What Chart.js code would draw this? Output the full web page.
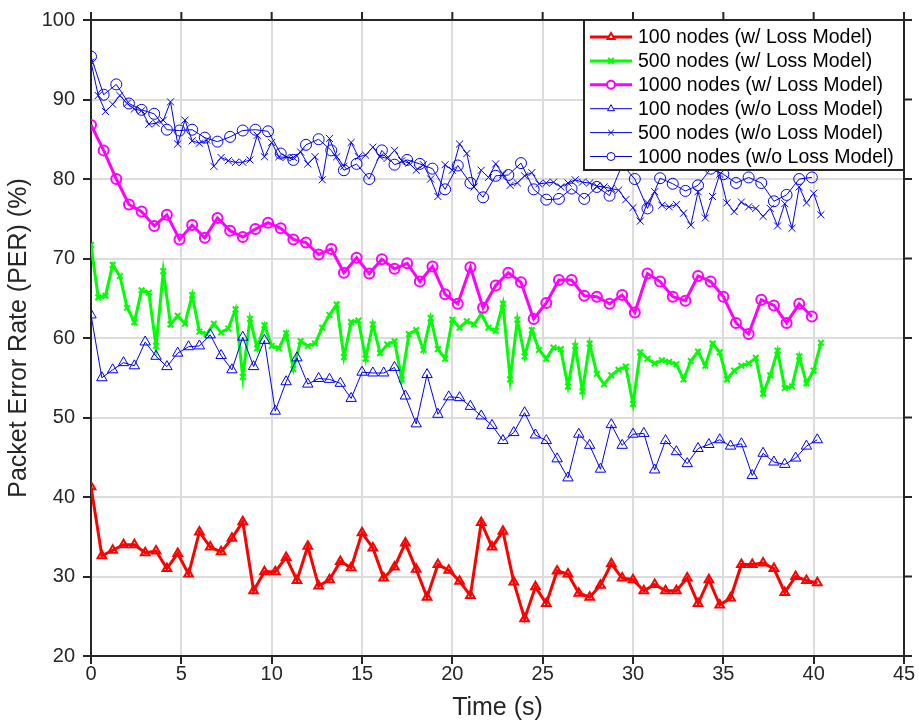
<!DOCTYPE html>
<html>
<head>
<meta charset="utf-8">
<script src="https://cdn.jsdelivr.net/npm/chart.js@4.4.1/dist/chart.umd.min.js"></script>
<style>
  html, body { margin: 0; padding: 0; background: #ffffff; }
  #wrap { width: 919px; height: 725px; position: relative; }
</style>
</head>
<body>
<div id="wrap"><canvas id="per" width="919" height="725"></canvas></div>
<script>
// sample spacing (s) of each run
var step100 = 0.6;
var step500 = 0.4;
var step1000 = 0.7;

var seriesNames = [
  "100 nodes (w/ Loss Model)",
  "500 nodes (w/ Loss Model)",
  "1000 nodes (w/ Loss Model)",
  "100 nodes (w/o Loss Model)",
  "500 nodes (w/o Loss Model)",
  "1000 nodes (w/o Loss Model)"
];

var xTicks = [0, 5, 10, 15, 20, 25, 30, 35, 40, 45];
var yTicks = [20, 30, 40, 50, 60, 70, 80, 90, 100];

// PER (%) values
var per100Loss = [41.3, 32.6, 33.3, 34.0, 34.0, 33.0, 33.2, 31.0, 32.9, 30.3,
  35.6, 33.7, 33.1, 34.8, 36.9, 28.2, 30.6, 30.6, 32.4, 29.5,
  33.8, 28.8, 29.6, 31.9, 31.1, 35.5, 33.6, 29.8, 31.2, 34.2,
  30.9, 27.4, 31.5, 30.8, 29.4, 27.6, 36.8, 33.7, 35.7, 29.3,
  24.7, 28.7, 26.6, 30.7, 30.3, 27.9, 27.4, 28.9, 31.6, 29.8,
  29.6, 28.2, 29.0, 28.2, 28.2, 29.8, 26.6, 29.6, 26.4, 27.3,
  31.5, 31.5, 31.7, 31.0, 28.0, 30.0, 29.5, 29.2];

var per500Loss = [71.7, 65.1, 65.3, 69.2, 67.8, 63.8, 62.0, 66.0, 65.7, 59.0,
  68.4, 61.7, 62.8, 61.8, 65.4, 60.8, 60.5, 61.8, 60.7, 61.2,
  63.6, 55.1, 62.4, 58.7, 61.6, 59.0, 58.7, 60.6, 56.1, 59.6,
  59.0, 59.3, 61.3, 62.9, 64.2, 57.6, 62.0, 62.2, 57.4, 61.7,
  58.1, 59.2, 59.6, 54.8, 60.5, 61.0, 58.5, 62.5, 58.6, 57.4,
  62.3, 61.3, 62.1, 61.7, 63.0, 61.3, 60.9, 64.3, 54.8, 62.3,
  57.7, 61.0, 58.5, 57.4, 58.8, 58.6, 53.9, 59.0, 53.3, 59.3,
  55.5, 54.2, 55.3, 56.0, 56.4, 51.7, 58.2, 57.4, 56.8, 57.2,
  57.0, 56.7, 54.8, 57.1, 58.3, 56.5, 59.3, 58.2, 54.8, 55.9,
  56.5, 56.8, 57.5, 53.0, 55.3, 58.4, 53.7, 53.9, 57.7, 54.3,
  55.9, 59.4];

var per1000Loss = [86.8, 83.6, 80.0, 76.8, 75.9, 74.1, 75.5, 72.4, 74.2, 72.6,
  75.1, 73.5, 72.7, 73.7, 74.5, 73.8, 72.4, 72.0, 70.5, 71.2,
  68.2, 70.1, 68.1, 69.9, 68.7, 69.4, 67.1, 69.0, 65.5, 64.3,
  68.9, 63.8, 66.6, 68.2, 67.0, 62.4, 64.4, 67.3, 67.3, 65.3,
  65.2, 64.3, 65.4, 63.2, 68.1, 67.1, 65.2, 64.7, 67.8, 67.1,
  65.2, 61.9, 60.5, 64.8, 64.1, 61.9, 64.3, 62.7];

var per100NoLoss = [62.9, 55.0, 56.0, 56.9, 56.5, 59.5, 57.7, 56.4, 58.1, 58.9,
  59.0, 60.4, 57.8, 56.0, 60.1, 56.4, 59.7, 50.8, 54.5, 57.5,
  54.2, 54.9, 54.8, 54.3, 52.4, 55.7, 55.6, 55.6, 56.3, 52.7,
  49.2, 55.4, 50.4, 52.6, 52.5, 51.4, 50.2, 49.0, 47.1, 48.1,
  50.6, 47.8, 47.1, 44.8, 42.4, 47.9, 46.5, 43.5, 49.1, 46.5,
  47.9, 48.0, 43.4, 47.1, 45.7, 44.2, 46.1, 46.6, 47.2, 46.4,
  46.7, 42.7, 45.5, 44.4, 44.1, 44.9, 46.4, 47.2];

var per500NoLoss = [94.7, 90.5, 88.5, 89.4, 90.5, 89.5, 88.8, 88.6, 86.9, 87.0,
  87.4, 89.7, 84.4, 87.4, 84.8, 84.5, 84.9, 81.6, 82.7, 82.3,
  82.1, 82.1, 82.4, 85.5, 82.8, 84.6, 82.8, 82.7, 82.7, 83.4,
  81.9, 82.8, 79.9, 85.1, 82.8, 81.6, 84.6, 82.8, 83.0, 84.0,
  82.8, 82.6, 83.6, 82.3, 82.0, 81.1, 81.8, 80.0, 77.8, 81.8,
  81.1, 84.4, 83.2, 79.0, 81.1, 80.2, 81.9, 80.6, 79.2, 79.5,
  80.4, 80.8, 79.4, 79.5, 79.6, 79.0, 79.5, 79.9, 79.6, 79.5,
  79.1, 79.0, 78.8, 78.6, 77.4, 76.4, 74.7, 77.0, 78.4, 76.7,
  76.5, 76.8, 75.7, 74.2, 78.4, 75.1, 77.8, 80.6, 77.0, 75.9,
  77.1, 76.5, 76.3, 75.3, 76.3, 74.1, 76.9, 73.8, 79.0, 77.0,
  78.2, 75.5];

var per1000NoLoss = [95.4, 90.6, 91.9, 89.5, 88.7, 88.2, 86.2, 86.1, 86.2, 85.2,
  84.7, 85.3, 86.1, 86.2, 86.0, 83.2, 82.4, 84.3, 85.0, 83.6,
  81.1, 81.9, 80.0, 83.6, 81.8, 82.4, 81.9, 81.3, 78.7, 81.7,
  79.5, 77.7, 80.4, 80.5, 82.0, 78.7, 77.4, 77.5, 78.8, 77.5,
  79.0, 77.9, 81.8, 80.0, 76.3, 80.1, 79.4, 78.5, 79.2, 81.3,
  80.6, 79.5, 80.2, 79.5, 77.2, 78.0, 80.0, 80.2];

var FONT = "'Liberation Sans', Helvetica, Arial, sans-serif";
var INK = "#262626";
var BLUE = "#0000f0";

/* turn a value array into {x,y} points with the run's sample spacing */
var toPoints = function(values, step){
  var pts = [];
  for (var i = 0; i < values.length; i++) {
    pts.push({x: Math.round(i * step * 10) / 10, y: values[i]});
  }
  return pts;
};

var makeSet = function(idx, values, step, color, width, style, radius){
  return {
    label: seriesNames[idx],
    data: toPoints(values, step),
    borderColor: color,
    backgroundColor: "rgba(0,0,0,0)",
    borderWidth: width,
    pointStyle: style,
    pointRadius: radius,
    pointBorderColor: color,
    pointBackgroundColor: "rgba(0,0,0,0)",
    pointBorderWidth: width > 2 ? 2 : 1,
    tension: 0,
    order: 6 - idx
  };
};

/* box on top/right, outward ticks there, and the legend inside the axes */
var framePlugin = {
  id: "frame",
  afterDatasetsDraw: function(chart){
    var ctx = chart.ctx;
    var a = chart.chartArea;
    var xs = chart.scales.x, ys = chart.scales.y;
    ctx.save();
    ctx.strokeStyle = INK;
    ctx.lineWidth = 2;
    ctx.beginPath();
    ctx.moveTo(a.left, a.top);
    ctx.lineTo(a.right, a.top);
    ctx.lineTo(a.right, a.bottom);
    for (var i = 0; i < xTicks.length; i++) {
      var px = xs.getPixelForValue(xTicks[i]);
      ctx.moveTo(px, a.top);
      ctx.lineTo(px, a.top - 8);
    }
    for (var j = 0; j < yTicks.length; j++) {
      var py = ys.getPixelForValue(yTicks[j]);
      ctx.moveTo(a.right, py);
      ctx.lineTo(a.right + 8, py);
    }
    ctx.stroke();

    // legend
    var w = 320, h = 150;
    var lx = a.right - w, ly = a.top;
    ctx.fillStyle = "#ffffff";
    ctx.fillRect(lx, ly, w, h);
    ctx.lineWidth = 2;
    ctx.strokeRect(lx, ly, w, h);
    ctx.font = "19.5px " + FONT;
    ctx.textBaseline = "middle";
    var sets = chart.data.datasets;
    for (var k = 0; k < sets.length; k++) {
      var ds = sets[k];
      var ry = ly + 17 + k * 23.9;
      ctx.strokeStyle = ds.borderColor;
      ctx.lineWidth = ds.borderWidth;
      ctx.beginPath();
      ctx.moveTo(lx + 6, ry);
      ctx.lineTo(lx + 48, ry);
      ctx.stroke();
      ctx.fillStyle = "#ffffff";
      ctx.lineWidth = ds.pointBorderWidth;
      Chart.helpers.drawPoint(ctx, {
        pointStyle: ds.pointStyle,
        radius: 4,
        rotation: 0,
        borderWidth: ds.pointBorderWidth
      }, lx + 27, ry);
      ctx.fillStyle = "#000000";
      ctx.fillText(ds.label, lx + 54, ry + 1);
    }
    ctx.restore();
  }
};

var ctx = document.getElementById("per").getContext("2d");
var chart = new Chart(ctx, {
  type: "line",
  data: {
    datasets: [
      makeSet(0, per100Loss, step100, "#ff0000", 3, "triangle", 5),
      makeSet(1, per500Loss, step500, "#00ff00", 3, "crossRot", 4),
      makeSet(2, per1000Loss, step1000, "#ff00ff", 3, "circle", 5),
      makeSet(3, per100NoLoss, step100, BLUE, 1, "triangle", 6),
      makeSet(4, per500NoLoss, step500, BLUE, 1, "crossRot", 5),
      makeSet(5, per1000NoLoss, step1000, BLUE, 1, "circle", 5.5)
    ]
  },
  options: {
    responsive: false,
    animation: false,
    devicePixelRatio: 1,
    layout: { padding: { top: 15, right: 15, left: 0, bottom: 0 } },
    plugins: {
      legend: { display: false },
      tooltip: { enabled: false }
    },
    scales: {
      x: {
        type: "linear",
        min: 0,
        max: 45,
        afterFit: function(scale){ scale.height = 69; },
        afterBuildTicks: function(scale){
          scale.ticks = xTicks.map(function(v){ return {value: v}; });
        },
        grid: { color: "#dcdcdc", lineWidth: 2, tickColor: INK, tickLength: 8, tickWidth: 2 },
        border: { display: true, color: INK, width: 2 },
        ticks: { color: INK, padding: -2, font: { family: FONT, size: 20 } },
        title: { display: true, text: "Time (s)", color: INK, padding: { top: 0, bottom: 2 },
                 font: { family: FONT, size: 25 } }
      },
      y: {
        type: "linear",
        min: 20,
        max: 100,
        afterFit: function(scale){ scale.width = 91; },
        afterBuildTicks: function(scale){
          scale.ticks = yTicks.map(function(v){ return {value: v}; });
        },
        grid: { color: "#dcdcdc", lineWidth: 2, tickColor: INK, tickLength: 8, tickWidth: 2 },
        border: { display: true, color: INK, width: 2 },
        ticks: { color: INK, padding: 8, font: { family: FONT, size: 20 } },
        title: { display: true, text: "Packet Error Rate (PER) (%)", color: INK,
                 padding: { top: 4, bottom: 0 }, font: { family: FONT, size: 25 } }
      }
    }
  },
  plugins: [framePlugin]
});
</script>
</body>
</html>
